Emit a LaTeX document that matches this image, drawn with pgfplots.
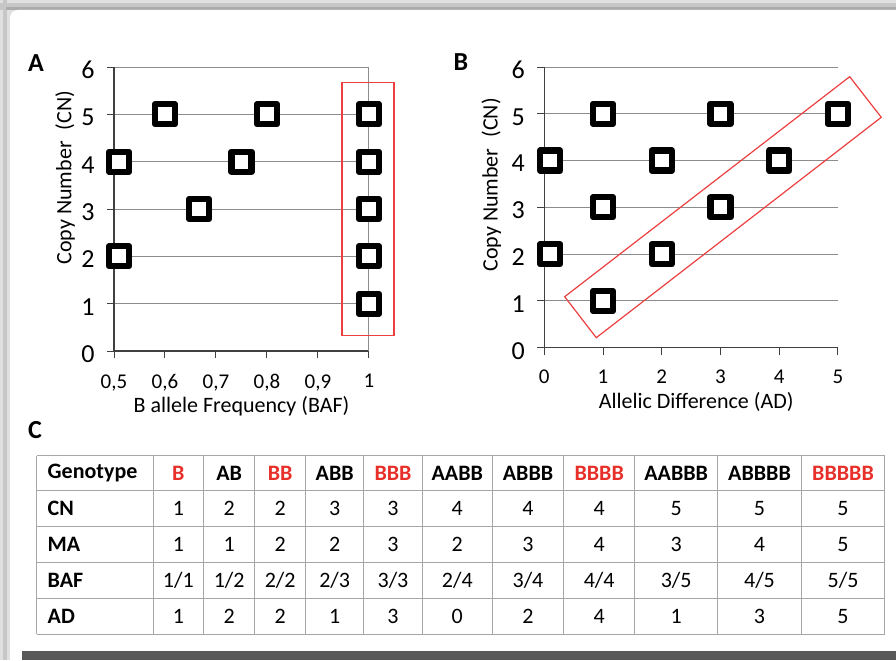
\documentclass[border=0pt]{standalone}
\usepackage{pgfplots}
\pgfplotsset{compat=1.18}
\usepackage{fontspec}
\setmainfont{Carlito}
\definecolor{cred}{HTML}{E8302A}
\definecolor{boxred}{HTML}{EC4040}
\definecolor{gridgray}{HTML}{8C8C8C}
\definecolor{axisdark}{HTML}{404040}
\definecolor{tblgray}{HTML}{A6A6A6}
\pgfplotsset{
  panel/.style={
    scale only axis, clip=false, anchor=south west,
    axis lines*=left, axis line style={axisdark, line width=0.6pt},
    tick align=outside, major tick length=3.5pt,
    tick style={axisdark, line width=0.5pt},
    ymajorgrids, grid style={gridgray, line width=0.5pt},
    ymin=0, ymax=6, ytick={0,...,6},
  },
  sq/.style={only marks, mark=square*, mark size=5pt,
    mark options={line width=3.1pt, draw=black, fill=white, line join=round}}
}
\begin{document}
\fontsize{11}{13}\selectfont
\begin{tikzpicture}
\useasboundingbox (0,0) rectangle (448pt,330pt);
% frame
\fill[black!12] (0,0) rectangle (448pt,330pt);
\fill[black!22] (1.5pt,0) rectangle (3.5pt,330pt);
\fill[black!22] (0,325pt) rectangle (448pt,328.5pt);
\fill[black!33] (3pt,325pt) rectangle (448pt,326.5pt);
\fill[white] (5pt,0) -- (5pt,321pt) arc[start angle=180, end angle=90, radius=4pt] -- (448pt,325pt) -- (448pt,0) -- cycle;
\fill[black!65] (11pt,0) rectangle (448pt,4.3pt);
% Panel A
\begin{axis}[panel, at={(57pt,154.5pt)}, width=127.5pt, height=142pt,
  xmin=0.5, xmax=1, xtick={0.5,0.6,0.7,0.8,0.9,1},
  xticklabels={{0,5},{0,6},{0,7},{0,8},{0,9},1},
  xlabel={B allele Frequency (BAF)}, ylabel={Copy Number\enspace(CN)},
  every axis x label/.style={at={(axis description cs:0.5,-0.194)}, anchor=center, inner sep=1pt, font=\fontsize{11}{13}\selectfont},
  every axis y label/.style={at={(axis description cs:-0.192,0.61)}, rotate=90, anchor=center, inner sep=1pt, font=\fontsize{11}{13}\selectfont},
  xticklabel style={font=\fontsize{10.5}{12}\selectfont, yshift=-7pt, inner sep=1pt},
  yticklabel style={font=\fontsize{13}{15}\selectfont, xshift=-5pt, yshift=-1.5pt, inner sep=1pt},
  /pgf/number format/assume math mode=true]
\draw[gridgray, line width=0.5pt] (axis cs:1,0) -- (axis cs:1,6);
\addplot[sq] coordinates {(0.51,2) (0.51,4) (0.6,5) (0.6667,3) (0.75,4) (0.8,5) (1,1) (1,2) (1,3) (1,4) (1,5)};
\draw[boxred, line width=0.6pt] (axis cs:0.947,0.32) rectangle (axis cs:1.049,5.68);
\end{axis}
% Panel B
\begin{axis}[panel, at={(272.15pt,156.15pt)}, width=146.85pt, height=140.35pt,
  xmin=0, xmax=5, xtick={0,...,5},
  xlabel={Allelic Difference (AD)}, ylabel={Copy Number\enspace(CN)},
  every axis x label/.style={at={(axis description cs:0.517,-0.192)}, anchor=center, inner sep=1pt, font=\fontsize{11}{13}\selectfont},
  every axis y label/.style={at={(axis description cs:-0.18,0.58)}, rotate=90, anchor=center, inner sep=1pt, font=\fontsize{11}{13}\selectfont},
  xticklabel style={font=\fontsize{10.5}{12}\selectfont, yshift=-6.3pt, inner sep=1pt},
  yticklabel style={font=\fontsize{13}{15}\selectfont, xshift=-5pt, yshift=-1.5pt, inner sep=1pt},
  /pgf/number format/assume math mode=true]
\addplot[sq] coordinates {(0.1,2) (0.1,4) (1,1) (1,3) (1,5) (2,2) (2,4) (3,3) (3,5) (4,4) (5,5)};
\draw[boxred, line width=0.6pt] (axis cs:0.347,1.09) -- (axis cs:0.885,0.214) -- (axis cs:5.737,4.925) -- (axis cs:5.199,5.793) -- cycle;
\end{axis}
% panel letters
\node[font=\fontsize{13}{15}\bfseries\selectfont] at (18pt,298.5pt) {A};
\node[font=\fontsize{13}{15}\bfseries\selectfont] at (230.5pt,299pt) {B};
\node[font=\fontsize{13}{15}\bfseries\selectfont] at (17.5pt,115pt) {C};
% table C
\begin{scope}[font=\fontsize{11}{13}\selectfont]
\foreach \y in {102.15,84.85,66.65,48.65,30.65,12.85}
  \draw[tblgray, line width=0.5pt] (18.35pt,\y pt) -- (442.35pt,\y pt);
\foreach \x in {18.35,76.5,101.85,127.35,152.85,181.85,211.15,246.15,281.85,317.35,358.85,400.65,442.35}
  \draw[tblgray, line width=0.5pt] (\x pt,12.85pt) -- (\x pt,102.15pt);
\def\colx{{89.18,114.6,140.1,167.35,196.5,228.65,264,299.6,338.1,379.75,421.5}}
\foreach \lab/\yy in {Genotype/93.5,CN/75.75,MA/57.65,BAF/39.65,AD/21.75}
  \node[anchor=west, font=\fontsize{11}{13}\bfseries\selectfont] at (20pt,\yy pt) {\lab};
\foreach \v/\c [count=\j from 0] in {B/cred,AB/black,BB/cred,ABB/black,BBB/cred,AABB/black,ABBB/black,BBBB/cred,AABBB/black,ABBBB/black,BBBBB/cred}
  {\pgfmathsetmacro\xx{\colx[\j]}\node[text=\c, font=\fontsize{11}{13}\bfseries\selectfont] at (\xx pt,93.5pt) {\v};}
\foreach \v [count=\j from 0] in {1,2,2,3,3,4,4,4,5,5,5}
  {\pgfmathsetmacro\xx{\colx[\j]}\node at (\xx pt,75.75pt) {\v};}
\foreach \v [count=\j from 0] in {1,1,2,2,3,2,3,4,3,4,5}
  {\pgfmathsetmacro\xx{\colx[\j]}\node at (\xx pt,57.65pt) {\v};}
\foreach \v [count=\j from 0] in {1/1,1/2,2/2,2/3,3/3,2/4,3/4,4/4,3/5,4/5,5/5}
  {\pgfmathsetmacro\xx{\colx[\j]}\node at (\xx pt,39.65pt) {\v};}
\foreach \v [count=\j from 0] in {1,2,2,1,3,0,2,4,1,3,5}
  {\pgfmathsetmacro\xx{\colx[\j]}\node at (\xx pt,21.75pt) {\v};}
\end{scope}
\end{tikzpicture}
\end{document}
